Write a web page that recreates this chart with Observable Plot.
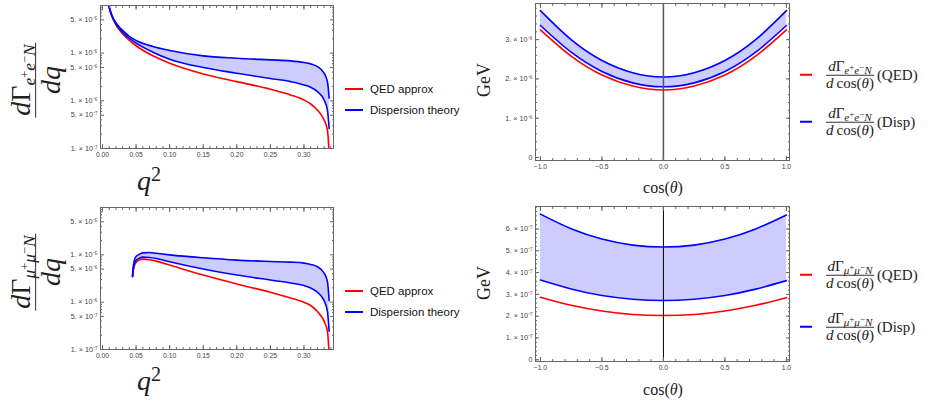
<!DOCTYPE html>
<html><head><meta charset="utf-8">
<script src="https://cdn.jsdelivr.net/npm/d3@7"></script>
<script src="https://cdn.jsdelivr.net/npm/@observablehq/plot@0.6"></script>
<style>
body{margin:0;background:#fff}
#root{position:relative;width:932px;height:404px;overflow:hidden;background:#fff}
.panel{position:absolute}
.lab{position:absolute;white-space:nowrap;font-family:"Liberation Serif","DejaVu Serif",serif;color:#222;line-height:1}
.frac{display:inline-flex;flex-direction:column;align-items:center;vertical-align:middle}
.frac>span{display:block;line-height:1.05;padding:0 2px}
.frac>.num{border-bottom:1px solid #333}
.sb{font-size:0.62em;position:relative;top:0.28em}
.sp{font-size:0.72em;position:relative;top:-0.45em}
.leg{position:absolute;display:flex;align-items:center;white-space:nowrap}
.sw{display:inline-block;width:18px;height:1.6px}
.legs{font-family:"Liberation Sans",Arial,sans-serif;font-size:11.5px;color:#111}
.legs .sw{margin-right:7px}
.legm{font-family:"Liberation Serif","DejaVu Serif",serif;font-size:15px;color:#222}
.legm .sw{width:12px;margin-right:12px}
.legm .sb{font-size:0.74em;top:0.3em}
.legm .sb .sp{font-size:0.8em;top:-0.5em}
.legm .tag{margin-left:1px}
</style></head><body><div id="root"></div><script>
// ---------- data: e+e- (top-left) ----------
const q2E = [0.007, 0.010, 0.015, 0.020, 0.025, 0.030, 0.040, 0.050, 0.075, 0.100, 0.150, 0.200, 0.250, 0.280, 0.300, 0.310, 0.320, 0.330, 0.335, 0.3375];
const qedE = [1.6e-4, 9.0e-5, 5.46e-5, 3.95e-5, 3.10e-5, 2.55e-5, 1.85e-5, 1.43e-5, 8.8e-6, 6.15e-6, 3.67e-6, 2.53e-6, 1.75e-6, 1.33e-6, 1.04e-6, 8.58e-7, 6.41e-7, 3.95e-7, 2.43e-7, 8.0e-8];
const dispLoE = [1.62e-4, 9.2e-5, 5.6e-5, 4.1e-5, 3.3e-5, 2.72e-5, 2.04e-5, 1.62e-5, 1.05e-5, 7.48e-6, 4.99e-6, 3.80e-6, 2.93e-6, 2.53e-6, 2.16e-6, 1.92e-6, 1.56e-6, 1.04e-6, 6.41e-7, 2.64e-7];
const dispHiE = [1.65e-4, 9.4e-5, 5.8e-5, 4.35e-5, 3.55e-5, 3.0e-5, 2.24e-5, 1.85e-5, 1.38e-5, 1.14e-5, 8.79e-6, 7.85e-6, 7.24e-6, 6.90e-6, 6.37e-6, 5.96e-6, 5.24e-6, 3.80e-6, 2.53e-6, 1.13e-6];
// ---------- data: mu+mu- (bottom-left) ----------
const q2M = [0.0447, 0.046, 0.048, 0.050, 0.055, 0.060, 0.070, 0.080, 0.100, 0.150, 0.200, 0.250, 0.280, 0.300, 0.310, 0.320, 0.330, 0.335, 0.3375];
const qedM = [3.51e-6, 4.84e-6, 6.17e-6, 6.90e-6, 7.85e-6, 8.11e-6, 7.85e-6, 7.36e-6, 6.07e-6, 3.74e-6, 2.43e-6, 1.62e-6, 1.23e-6, 1.0e-6, 8.51e-7, 6.37e-7, 3.93e-7, 2.43e-7, 8.0e-8];
const dispLoM = [3.51e-6, 5.16e-6, 6.90e-6, 7.60e-6, 8.51e-6, 8.93e-6, 8.79e-6, 8.38e-6, 7.13e-6, 5.0e-6, 3.74e-6, 2.94e-6, 2.55e-6, 2.24e-6, 2.0e-6, 1.62e-6, 1.08e-6, 6.37e-7, 2.43e-7];
const dispHiM = [3.51e-6, 5.88e-6, 8.11e-6, 9.23e-6, 1.03e-5, 1.10e-5, 1.12e-5, 1.08e-5, 1.0e-5, 8.65e-6, 7.73e-6, 7.24e-6, 7.01e-6, 6.68e-6, 6.26e-6, 5.60e-6, 4.12e-6, 2.72e-6, 1.08e-6];
// ---------- data: angular distributions (right) ----------
const cosT = [-1, -0.75, -0.5, -0.25, 0, 0.25, 0.5, 0.75, 1];
const qedEcos = [3.25e-6, 2.58e-6, 2.10e-6, 1.82e-6, 1.72e-6, 1.82e-6, 2.10e-6, 2.58e-6, 3.25e-6];
const dispLoEcos = [3.36e-6, 2.68e-6, 2.19e-6, 1.90e-6, 1.80e-6, 1.90e-6, 2.19e-6, 2.68e-6, 3.36e-6];
const dispHiEcos = [3.74e-6, 3.00e-6, 2.47e-6, 2.16e-6, 2.05e-6, 2.16e-6, 2.47e-6, 3.00e-6, 3.74e-6];
const qedMcos = [2.87e-7, 2.50e-7, 2.24e-7, 2.08e-7, 2.03e-7, 2.08e-7, 2.24e-7, 2.50e-7, 2.85e-7];
const dispLoMcos = [3.66e-7, 3.25e-7, 2.95e-7, 2.78e-7, 2.72e-7, 2.78e-7, 2.95e-7, 3.24e-7, 3.63e-7];
const dispHiMcos = [6.68e-7, 6.01e-7, 5.54e-7, 5.26e-7, 5.17e-7, 5.26e-7, 5.54e-7, 6.00e-7, 6.64e-7];
// ---------- ticks ----------
const q2Ticks = [0, 0.05, 0.10, 0.15, 0.20, 0.25, 0.30];
const q2TickLabels = ["0.00", "0.05", "0.10", "0.15", "0.20", "0.25", "0.30"];
const logTicks = [1e-7, 5e-7, 1e-6, 5e-6, 1e-5, 5e-5];
const logTickLabels = ["1. × 10⁻⁷", "5. × 10⁻⁷", "1. × 10⁻⁶", "5. × 10⁻⁶", "1. × 10⁻⁵", "5. × 10⁻⁵"];
const cosTicks = [-1, -0.5, 0, 0.5, 1];
const cosTickLabels = ["−1.0", "−0.5", "0.0", "0.5", "1.0"];
const yTicksE = [0, 1e-6, 2e-6, 3e-6];
const yTickLabelsE = ["0", "1. × 10⁻⁶", "2. × 10⁻⁶", "3. × 10⁻⁶"];
const yTicksM = [0, 1e-7, 2e-7, 3e-7, 4e-7, 5e-7, 6e-7];
const yTickLabelsM = ["0", "1. × 10⁻⁷", "2. × 10⁻⁷", "3. × 10⁻⁷", "4. × 10⁻⁷", "5. × 10⁻⁷", "6. × 10⁻⁷"];

const root = document.getElementById("root");
const RED = "#ff0000", BLUE = "#0000ff", FILL = "#ccccff", FRAME = "#666", TXT = "#444";

function axes(ticks, labels, minor, dim) {
  const A = dim === "x" ? Plot.axisX : Plot.axisY;
  const a1 = dim === "x" ? "bottom" : "left", a2 = dim === "x" ? "top" : "right";
  const common = {label: null, stroke: FRAME, color: TXT, tickFormat: () => ""};
  const lab = ticks.map((t, i) => ({t, s: labels[i]}));
  const text = dim === "x"
    ? Plot.text(lab, {x: "t", text: "s", frameAnchor: "bottom", lineAnchor: "top", dy: 4, fontSize: 6.8, fill: TXT})
    : Plot.text(lab, {y: "t", text: "s", frameAnchor: "left", textAnchor: "end", dx: -3, fontSize: 7.2, fill: TXT});
  return [
    A(ticks, {...common, anchor: a1, tickSize: -4}),
    A(ticks, {...common, anchor: a2, tickSize: -4}),
    A(minor, {...common, anchor: a1, tickSize: -2}),
    A(minor, {...common, anchor: a2, tickSize: -2}),
    text
  ];
}

function panel({left, top, width, height, mt, mr, mb, ml, xDomain, yType, yDomain, rows, xAx, yAx, curve, zero}) {
  const marks = [
    Plot.areaY(rows, {x: "x", y1: "lo", y2: "hi", fill: FILL, curve, clip: true}),
    Plot.line(rows, {x: "x", y: "qed", stroke: RED, strokeWidth: 1.6, curve, clip: true}),
    Plot.line(rows, {x: "x", y: "lo", stroke: BLUE, strokeWidth: 1.6, curve, clip: true}),
    Plot.line(rows, {x: "x", y: "hi", stroke: BLUE, strokeWidth: 1.6, curve, clip: true})
  ];
  if (zero) marks.push(Plot.ruleX([0], {stroke: zero.color, strokeWidth: zero.width}));
  marks.push(Plot.frame({stroke: FRAME, strokeWidth: 1}));
  marks.push(...xAx, ...yAx);
  const svg = Plot.plot({
    width, height, marginTop: mt, marginRight: mr, marginBottom: mb, marginLeft: ml,
    style: {fontFamily: "'Liberation Sans', Arial, sans-serif", fontSize: "6.8px", background: "transparent", overflow: "visible"},
    x: {domain: xDomain, label: null},
    y: {type: yType, domain: yDomain, label: null},
    marks
  });
  const d = document.createElement("div");
  d.className = "panel";
  d.style.left = left + "px"; d.style.top = top + "px";
  d.appendChild(svg);
  root.appendChild(d);
}

const rowsE = q2E.map((x, i) => ({x, qed: qedE[i], lo: dispLoE[i], hi: dispHiE[i]}));
const rowsM = q2M.map((x, i) => ({x, qed: qedM[i], lo: dispLoM[i], hi: dispHiM[i]}));
const rowsEc = cosT.map((x, i) => ({x, qed: qedEcos[i], lo: dispLoEcos[i], hi: dispHiEcos[i]}));
const rowsMc = cosT.map((x, i) => ({x, qed: qedMcos[i], lo: dispLoMcos[i], hi: dispHiMcos[i]}));

const q2Minor = d3.range(0, 0.345, 0.01);
const logMinor = [1e-7, 1e-6, 1e-5].flatMap(p => [2, 3, 4, 6, 7, 8, 9].map(k => k * p));
const cosMinor = d3.range(-10, 11).map(k => k / 10);

panel({left: 0, top: 0, width: 340, height: 170, mt: 5, mr: 7, mb: 22, ml: 100,
  xDomain: [-0.003, 0.344], yType: "log", yDomain: [1e-7, 1e-4], rows: rowsE, curve: "monotone-x",
  xAx: axes(q2Ticks, q2TickLabels, q2Minor, "x"), yAx: axes(logTicks, logTickLabels, logMinor, "y")});
panel({left: 0, top: 200, width: 340, height: 171, mt: 7, mr: 7, mb: 22, ml: 100,
  xDomain: [-0.003, 0.344], yType: "log", yDomain: [1e-7, 1e-4], rows: rowsM, curve: "monotone-x",
  xAx: axes(q2Ticks, q2TickLabels, q2Minor, "x"), yAx: axes(logTicks, logTickLabels, logMinor, "y")});
panel({left: 470, top: 0, width: 330, height: 175, mt: 3, mr: 11, mb: 15, ml: 65,
  xDomain: [-1.04, 1.025], yType: "linear", yDomain: [-0.076e-6, 3.92e-6], rows: rowsEc, curve: "natural",
  zero: {color: "#555", width: 1.5},
  xAx: axes(cosTicks, cosTickLabels, cosMinor, "x"), yAx: axes(yTicksE, yTickLabelsE, d3.range(0, 20).map(k => k * 0.2e-6), "y")});
panel({left: 470, top: 200, width: 330, height: 175, mt: 6, mr: 11, mb: 14, ml: 65,
  xDomain: [-1.04, 1.025], yType: "linear", yDomain: [-0.078e-7, 7.03e-7], rows: rowsMc, curve: "natural",
  zero: {color: "#000", width: 1},
  xAx: axes(cosTicks, cosTickLabels, cosMinor, "x"), yAx: axes(yTicksM, yTickLabelsM, d3.range(0, 36).map(k => k * 0.2e-7), "y")});

// ---------- text labels ----------
function place(html, cx, cy, cls, rot, size) {
  const d = document.createElement("div");
  d.className = cls;
  d.innerHTML = html;
  d.style.left = cx + "px"; d.style.top = cy + "px";
  if (size) d.style.fontSize = size + "px";
  d.style.transform = "translate(-50%,-50%)" + (rot ? " rotate(" + rot + "deg)" : "");
  root.appendChild(d);
  return d;
}
const sub = s => `<span class="sb">${s}</span>`;
const sup = s => `<span class="sp">${s}</span>`;
const gE = `<i>d</i>Γ${sub(`<i>e</i>${sup("+")}<i>e</i>${sup("−")}<i>N</i>`)}`;
const gM = `<i>d</i>Γ${sub(`<i>μ</i>${sup("+")}<i>μ</i>${sup("−")}<i>N</i>`)}`;

place(`<span class="frac"><span class="num">${gE}</span><span class="den"><i>dq</i></span></span>`, 36, 80, "lab", -90, 28);
place(`<span class="frac"><span class="num">${gM}</span><span class="den"><i>dq</i></span></span>`, 36, 272, "lab", -90, 28);
place(`<i>q</i>${sup("2")}`, 149, 181, "lab", 0, 28);
place(`<i>q</i>${sup("2")}`, 149, 381, "lab", 0, 28);
place(`GeV`, 484, 80, "lab", -90, 18);
place(`GeV`, 484, 283, "lab", -90, 18);
place(`cos(<i>θ</i>)`, 663, 188, "lab", 0, 16);
place(`cos(<i>θ</i>)`, 663, 390, "lab", 0, 16);

// left legends
function legS(text, color, x, cy) {
  const d = document.createElement("div");
  d.className = "leg legs";
  d.innerHTML = `<span class="sw" style="background:${color}"></span>${text}`;
  d.style.left = x + "px"; d.style.top = cy + "px"; d.style.transform = "translateY(-50%)";
  root.appendChild(d);
}
legS("QED approx", RED, 345, 89);
legS("Dispersion theory", BLUE, 345, 110);
legS("QED approx", RED, 345, 291);
legS("Dispersion theory", BLUE, 345, 312);

function legM(g, tag, color, x, cy) {
  const d = document.createElement("div");
  d.className = "leg legm";
  d.innerHTML = `<span class="sw" style="background:${color}"></span><span class="frac"><span class="num">${g}</span><span class="den"><i>d</i>&#8201;cos(<i>θ</i>)</span></span><span class="tag">(${tag})</span>`;
  d.style.left = x + "px"; d.style.top = cy + "px"; d.style.transform = "translateY(-50%)";
  root.appendChild(d);
}
legM(gE, "QED", RED, 800, 75);
legM(gE, "Disp", BLUE, 800, 122);
legM(gM, "QED", RED, 800, 275);
legM(gM, "Disp", BLUE, 800, 327);
</script></body></html>
